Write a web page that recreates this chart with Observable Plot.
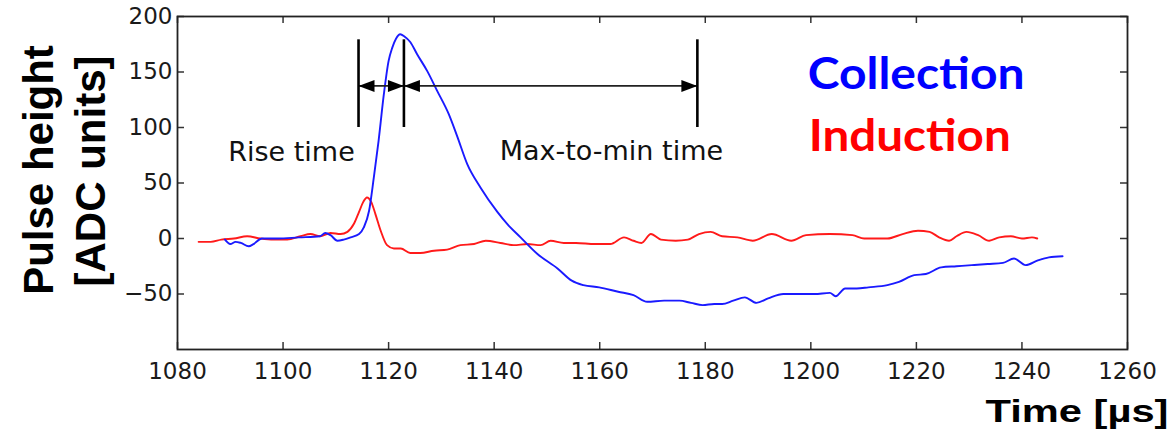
<!DOCTYPE html>
<html><head><meta charset="utf-8">
<script src="https://cdn.jsdelivr.net/npm/d3@7"></script>
<script src="https://cdn.jsdelivr.net/npm/@observablehq/plot@0.6"></script>
<style>html,body{margin:0;padding:0;background:#fff;} #chart{width:1171px;height:439px;overflow:hidden}</style>
</head><body><div id="chart"></div>
<script>
// Collection (blue) pulse
const blueTime = [1089,1090,1091,1092,1093.5,1094.4,1096,1099,1103,1107,1108,1109,1110.3,1111.5,1112.8,1114.4,1115.3,1116.3,1117.2,1118.1,1119.1,1120,1120.7,1121.4,1122.2,1123,1124.1,1125.4,1127.3,1129.2,1131.4,1133,1134.9,1137.4,1140.6,1142.5,1145,1148.2,1152,1154.7,1156.9,1159.9,1163.5,1166.4,1169,1172.2,1175.1,1177.3,1179.5,1181.7,1183.2,1185.3,1187.5,1189.7,1191.9,1194.8,1197.7,1200.7,1203.6,1204.7,1206.5,1208.7,1210.9,1214.5,1216.7,1219.6,1221.8,1224.7,1227.6,1230.5,1233.5,1236.4,1238.5,1240.7,1242.9,1245.1,1247.7];
const blueValue = [-1,-5,-3,-4,-7,-5,0,0,1,2,5,3,-2,-1,1,4,10,25,55,88,130,160,172,180,184,182,177,166,151,133,112,92,67,46,24,13,1,-14,-27,-38,-42,-44,-48,-51,-57,-56,-56,-58,-60,-59,-59,-56,-53,-58,-54,-50,-50,-50,-49,-52,-45,-45,-44,-42,-39,-33,-32,-26,-25,-24,-23,-22,-18,-24,-20,-17,-16];
// Induction (red) pulse
const redTime = [1084,1086.3,1088.3,1090.7,1093.2,1095.7,1098.2,1100.8,1103.3,1105.2,1107,1109,1110.9,1112.2,1113.4,1114.4,1115.2,1115.9,1116.7,1117.5,1118.5,1119.7,1121,1122.3,1124.1,1126,1128.6,1131.1,1133.6,1136.2,1138.4,1141.2,1143.7,1146.3,1148.8,1150.7,1153.2,1155.5,1159.1,1162,1164.6,1166.4,1167.9,1169.7,1171.6,1174.4,1176.7,1178.8,1181,1183.2,1186.1,1189,1192.6,1196.3,1199.1,1203.6,1207.9,1210.1,1214.5,1217.4,1220.3,1222.5,1224.3,1226.2,1227.6,1229.5,1231.7,1233.8,1235.7,1237.9,1240,1241.9,1242.9];
const redValue = [-3,-3,-1,0,2,0,-1,-1,2,4,2,5,4,6,13,24,33,37,33,22,7,-6,-9,-9,-13,-13,-11,-10,-6,-5,-2,-4,-6,-5,-6,-2,-4,-4,-5,-5,1,-2,-4,4,-1,-2,-1,4,6,2,1,-2,4,-2,3,4,3,0,0,4,7,6,1,-2,2,6,3,-2,1,2,0,1,0];

const xTicks = [1080,1100,1120,1140,1160,1180,1200,1220,1240,1260];
const yTicks = [-50,0,50,100,150,200];

// annotation: time markers and arrows
const markerTimes = [1114.3, 1122.9, 1178.5];
const markerLow = 100, markerHigh = 179;
const arrowLevel = 137.5;
const leftHeads = [1114.3, 1122.9];
const rightHeads = [1122.9, 1178.5];
const annotationLabels = ["Rise time", "Max-to-min time"];
const annotationTime = [1101.6, 1162.2];
const annotationValue = [70, 71];

const seriesNames = ["Collection", "Induction"];
const seriesColors = ["#0000ff", "#ff0000"];
const seriesLabelTime = [1199.4, 1199.6];
const seriesLabelValue = [135, 79];

const blue = blueTime.map((t, i) => ({t, v: blueValue[i]}));
const red = redTime.map((t, i) => ({t, v: redValue[i]}));
const ann = annotationLabels.map((label, i) => ({label, t: annotationTime[i], v: annotationValue[i]}));
const series = seriesNames.map((name, i) => ({name, color: seriesColors[i], t: seriesLabelTime[i], v: seriesLabelValue[i]}));

const headL = {draw(ctx) { ctx.moveTo(0, 0); ctx.lineTo(16, -6); ctx.lineTo(16, 6); ctx.closePath(); }};
const headR = {draw(ctx) { ctx.moveTo(0, 0); ctx.lineTo(-16, -6); ctx.lineTo(-16, 6); ctx.closePath(); }};

const W = 1171, H = 439, mL = 177, mR = 44, mT = 16, mB = 90;
const pw = W - mL - mR, ph = H - mT - mB;
const tick = 7;

const chart = Plot.plot({
  width: W, height: H,
  marginLeft: mL, marginRight: mR, marginTop: mT, marginBottom: mB,
  style: {background: "#fff", fontFamily: "DejaVu Sans", color: "#1a1a1a"},
  x: {domain: [1080, 1260]},
  y: {domain: [-100, 200]},
  marks: [
    Plot.axisX({ticks: xTicks, tickFormat: d => String(d), tickSize: 0, tickPadding: 13, fontSize: 23, label: null, fill: "#1a1a1a"}),
    Plot.axisY({ticks: yTicks, tickSize: 0, tickPadding: 5, fontSize: 23, label: null, fill: "#1a1a1a"}),
    Plot.tickX(xTicks, {x: d => d, insetTop: ph - tick, stroke: "#333", strokeWidth: 1.5}),
    Plot.tickX(xTicks, {x: d => d, insetBottom: ph - tick, stroke: "#333", strokeWidth: 1.5}),
    Plot.tickY(yTicks, {y: d => d, insetRight: pw - tick, stroke: "#333", strokeWidth: 1.5}),
    Plot.tickY(yTicks, {y: d => d, insetLeft: pw - tick, stroke: "#333", strokeWidth: 1.5}),
    Plot.line(red, {x: "t", y: "v", stroke: "#ff1a1a", strokeWidth: 1.9, curve: "monotone-x"}),
    Plot.line(blue, {x: "t", y: "v", stroke: "#1a1aff", strokeWidth: 1.9, curve: "monotone-x"}),
    Plot.ruleY([arrowLevel], {x1: markerTimes[0], x2: markerTimes[2], stroke: "#222", strokeWidth: 1.6}),
    Plot.ruleX(markerTimes, {x: d => d, y1: markerLow, y2: markerHigh, stroke: "#000", strokeWidth: 2.6}),
    Plot.dot(leftHeads, {x: d => d, y: () => arrowLevel, symbol: headL, fill: "#000", stroke: null, r: 5}),
    Plot.dot(rightHeads, {x: d => d, y: () => arrowLevel, symbol: headR, fill: "#000", stroke: null, r: 5}),
    Plot.text(ann, {x: "t", y: "v", text: "label", fontSize: 27, fontFamily: "DejaVu Sans", fill: "#111", textAnchor: "middle", lineAnchor: "bottom"}),
    Plot.text(series, {x: "t", y: "v", text: "name", fill: "color", fontSize: 43, fontWeight: "bold", fontFamily: "Lato", textAnchor: "start", lineAnchor: "bottom"}),
    Plot.text(["Pulse height"], {frameAnchor: "left", rotate: -90, text: d => d, fontSize: 42, fontWeight: "bold", fontFamily: "Liberation Sans", fill: "#000", textAnchor: "middle", lineAnchor: "bottom", dx: -125, dy: -13}),
    Plot.text(["[ADC units]"], {frameAnchor: "left", rotate: -90, text: d => d, fontSize: 42, fontWeight: "bold", fontFamily: "Liberation Sans", fill: "#000", textAnchor: "middle", lineAnchor: "bottom", dx: -73, dy: -12}),
    Plot.text(["Time [µs]"], {frameAnchor: "bottom-right", text: d => d, fontSize: 31, fontWeight: "bold", fontFamily: "Liberation Sans", fill: "#000", textAnchor: "end", lineAnchor: "bottom", dx: 41, dy: 72}),
    Plot.frame({stroke: "#222", strokeWidth: 1.8})
  ]
});
document.getElementById("chart").append(chart);

// stretch a few labels to their measured widths
const widths = {"Time [µs]": 183, "Collection": 217, "Induction": 202};
d3.select(chart).selectAll("text").each(function() {
  const w = widths[this.textContent];
  if (w) d3.select(this).attr("textLength", w).attr("lengthAdjust", "spacingAndGlyphs");
});
</script></body></html>
